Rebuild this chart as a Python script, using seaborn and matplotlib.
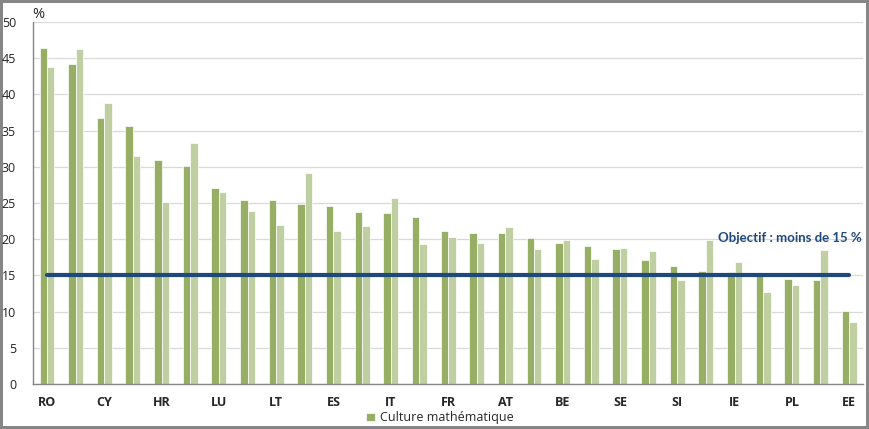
import matplotlib
matplotlib.use("Agg")
import matplotlib.pyplot as plt
import pandas as pd
import seaborn as sns

# Pays (une étiquette sur deux est affichée sur l'axe)
countries = ["RO", "BG", "CY", "EL", "HR", "MT", "LU", "HU", "LT", "SK",
             "ES", "UE", "IT", "PT", "FR", "DE", "AT", "CZ", "BE", "UK",
             "SE", "LV", "SI", "NL", "IE", "FI", "PL", "DK", "EE"]
# Culture mathématique : faibles performances (%)
maths_dark = [46.4, 44.2, 36.7, 35.6, 30.9, 30.1, 27.1, 25.4, 25.4, 24.9,
              24.6, 23.8, 23.6, 23.1, 21.1, 20.9, 20.9, 20.2, 19.5, 19.1,
              18.6, 17.1, 16.3, 15.6, 15.5, 15.0, 14.5, 14.4, 10.1]
maths_light = [43.8, 46.3, 38.8, 31.5, 25.1, 33.3, 26.5, 23.9, 22.0, 29.1,
               21.1, 21.8, 25.7, 19.3, 20.3, 19.5, 21.7, 18.6, 19.9, 17.3,
               18.8, 18.4, 14.4, 19.9, 16.9, 12.7, 13.7, 18.5, 8.6]
series_names = ["Culture mathématique", "Culture mathématique (précédent)"]
target = 15
target_label = "Objectif : moins de 15 %"

df = pd.DataFrame({
    "pays": countries * 2,
    "valeur": maths_dark + maths_light,
    "serie": [series_names[0]] * len(countries) + [series_names[1]] * len(countries),
})

sns.set_style("white")
plt.rcParams["font.family"] = ["Open Sans", "DejaVu Sans"]

fig = plt.figure(figsize=(8.69, 4.29), dpi=100)
fig.patch.set_edgecolor("#868686")
fig.patch.set_linewidth(3)
ax = fig.add_axes([0.0376, 0.1049, 0.956, 0.8438])

sns.barplot(data=df, x="pays", y="valeur", hue="serie",
            palette=["#9BBB59", "#C3D69B"], width=0.52,
            edgecolor="white", linewidth=0.5, ax=ax)

# ligne d'objectif
n = len(countries)
ax.plot(range(n), [target] * n, color="#1F497D", lw=3, solid_capstyle="round", zorder=5)
ax.text(n - 1 + 0.45, 20.2, target_label, ha="right", va="center",
        fontsize=9.5, fontweight="bold", color="#1F497D", family=["Lato", "DejaVu Sans"])

ax.set_ylim(0, 50)
ax.set_xlim(-0.5, n - 0.5)
ax.set_yticks(range(0, 51, 5))
ax.yaxis.grid(True, color="#D9D9D9", lw=0.9)
ax.set_axisbelow(True)
ax.set_xlabel("")
ax.set_ylabel("")

# graduations entre les catégories, étiquettes au centre
ax.set_xticks([i - 0.5 for i in range(n + 1)])
ax.set_xticklabels([])
ax.set_xticks(range(n), minor=True)
ax.set_xticklabels([c if i % 2 == 0 else "" for i, c in enumerate(countries)],
                   minor=True, fontsize=9, fontweight="bold")
ax.tick_params(axis="x", which="major", length=4, color="#868686", direction="out")
ax.tick_params(axis="x", which="minor", length=0, pad=9)
ax.tick_params(axis="y", length=4, color="#868686", labelsize=9, pad=8,
               labelcolor="#222222")

for side in ["top", "right"]:
    ax.spines[side].set_visible(False)
for side in ["left", "bottom"]:
    ax.spines[side].set_color("#868686")
    ax.spines[side].set_linewidth(1)

fig.text(32 / 869, 1 - 14 / 429, "%", fontsize=10.5, ha="left", va="center")

handles, labels = ax.get_legend_handles_labels()
ax.get_legend().remove()
fig.legend(handles[:1], labels[:1], loc="center", bbox_to_anchor=(0.506, 0.026),
           frameon=False, fontsize=9, handlelength=0.7, handleheight=0.7,
           handletextpad=0.4)

fig.savefig("out.png", dpi=100)
